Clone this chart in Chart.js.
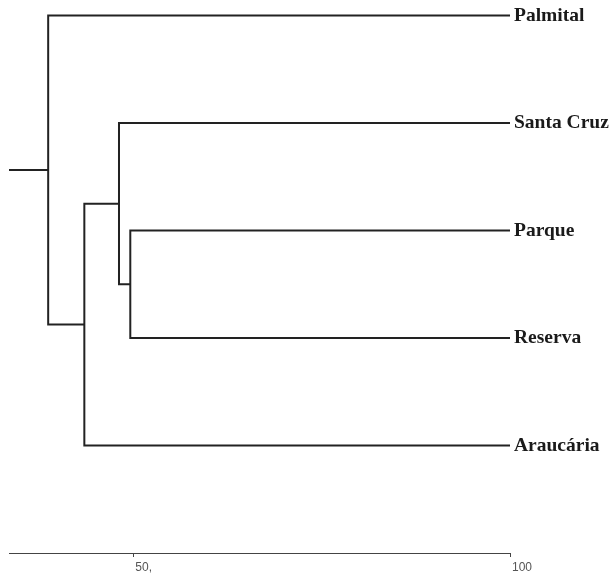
<!DOCTYPE html>
<html><head><meta charset="utf-8">
<script src="https://cdn.jsdelivr.net/npm/chart.js@4"></script>
<style>html,body{margin:0;padding:0;background:#fff}#wrap{width:613px;height:582px;position:relative}</style>
</head><body><div id="wrap"><canvas id="c"></canvas></div>
<script>
const leafLabels = ['Palmital', 'Santa Cruz', 'Parque', 'Reserva', 'Araucária'];
const leafSimilarity = 100;
// merges (cluster ids: leaves 0-4, new clusters 5,6,7,8)
const mergeFirst = [2, 1, 6, 0];
const mergeSecond = [3, 5, 4, 7];
const mergeSimilarity = [49.6, 48.1, 43.5, 38.7];
const rootStart = 33.5;
const axisTicks = [50, 100];
const axisTickLabels = ['50,', '100'];

const nodeSim = leafLabels.map(() => leafSimilarity);
const nodePos = leafLabels.map((_, i) => i);
const segments = [];
mergeFirst.forEach((a, k) => {
  const b = mergeSecond[k], s = mergeSimilarity[k];
  segments.push([{x: nodeSim[a], y: nodePos[a]}, {x: s, y: nodePos[a]}, {x: s, y: nodePos[b]}, {x: nodeSim[b], y: nodePos[b]}]);
  nodeSim.push(s);
  nodePos.push((nodePos[a] + nodePos[b]) / 2);
});
const root = nodeSim.length - 1;
segments.push([{x: rootStart, y: nodePos[root]}, {x: nodeSim[root], y: nodePos[root]}]);

const zeroPad = s => { s.paddingTop = 0; s.paddingBottom = 0; s.paddingLeft = 0; s.paddingRight = 0; };

new Chart(document.getElementById('c'), {
  type: 'scatter',
  data: {
    datasets: segments.map(seg => ({
      data: seg, showLine: true, borderColor: '#222', borderWidth: 2,
      pointRadius: 0, pointHoverRadius: 0, tension: 0, clip: false,
      borderJoinStyle: 'miter', borderCapStyle: 'butt'
    }))
  },
  options: {
    responsive: true, maintainAspectRatio: false, animation: false,
    layout: {padding: {left: 9, right: 0, top: 4.75, bottom: 0}},
    plugins: {legend: {display: false}, tooltip: {enabled: false}},
    events: [],
    scales: {
      x: {
        type: 'linear', min: rootStart, max: leafSimilarity, position: 'bottom',
        afterFit: s => { s.height = 29; zeroPad(s); },
        afterBuildTicks: s => { s.ticks = axisTicks.map(v => ({value: v})); },
        border: {display: true, color: '#444', width: 1},
        grid: {drawOnChartArea: false, drawTicks: true, tickLength: 4, color: '#444', lineWidth: 1},
        ticks: {
          align: 'start', padding: 3, labelOffset: 2, color: '#555', autoSkip: false, maxRotation: 0,
          font: {family: 'Liberation Sans', size: 12},
          callback: (v) => axisTickLabels[axisTicks.indexOf(v)]
        }
      },
      y: {
        type: 'linear', reverse: true, min: -0.1, max: 5, position: 'right',
        afterFit: s => { s.width = 103; zeroPad(s); },
        afterBuildTicks: s => { s.ticks = leafLabels.map((_, i) => ({value: i})); },
        border: {display: false},
        grid: {display: false, drawTicks: false},
        ticks: {
          padding: 4, color: '#1a1a1a', autoSkip: false,
          font: {family: 'Liberation Serif', size: 19.5, weight: 'bold'},
          callback: (v) => leafLabels[v]
        }
      }
    }
  }
});
</script></body></html>
